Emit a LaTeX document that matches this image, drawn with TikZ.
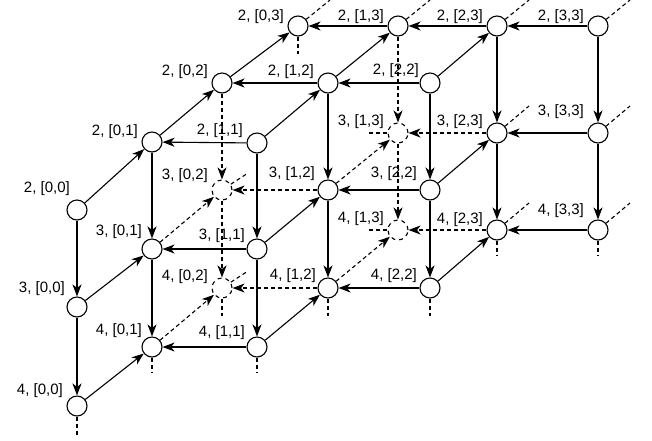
\documentclass[tikz,border=0pt]{standalone}
\usepackage{fontspec}
\setmainfont{Liberation Sans}
\usetikzlibrary{arrows.meta}

\begin{document}
\begin{tikzpicture}[x=1pt,y=-1pt,
    vtx/.style={circle,draw,fill=white,line width=1.1pt,
                minimum size=20pt,inner sep=0pt},
    hid/.style={vtx,dash pattern=on 4pt off 4pt},
    lbl/.style={anchor=base east,inner sep=0pt,
                font=\fontsize{15}{18}\selectfont},
    arr/.style={-{Stealth[length=12pt,width=9pt,inset=3.5pt]},line width=1.1pt},
    darr/.style={arr,dash pattern=on 4pt off 3pt},
    stub/.style={line width=1.1pt,dash pattern=on 4pt off 3pt},
  ]
    \useasboundingbox (0,0) rectangle (652,440);
    % layer 2
    \node[vtx](v2-00) at (77,210) {};  \node[lbl](t2-00) at (70,192) {2, [0,0]};
    \node[vtx](v2-01) at (152,142) {}; \node[lbl](t2-01) at (138,135) {2, [0,1]};
    \node[vtx](v2-02) at (222,83) {};  \node[lbl](t2-02) at (208,75) {2, [0,2]};
    \node[vtx](v2-03) at (298,26) {};  \node[lbl](t2-03) at (284,20) {2, [0,3]};
    \node[vtx](v2-11) at (257,143) {}; \node[lbl](t2-11) at (243,134) {2, [1,1]};
    \node[vtx](v2-12) at (328,83) {};  \node[lbl](t2-12) at (314,75) {2, [1,2]};
    \node[vtx](v2-13) at (398,26) {};  \node[lbl](t2-13) at (384,20) {2, [1,3]};
    \node[vtx](v2-22) at (430,83) {};  \node[lbl](t2-22) at (419,74) {2, [2,2]};
    \node[vtx](v2-23) at (497,26) {};  \node[lbl](t2-23) at (483,20) {2, [2,3]};
    \node[vtx](v2-33) at (598,26) {};  \node[lbl](t2-33) at (584,20) {2, [3,3]};
    % layer 3
    \node[vtx](v3-00) at (77,307) {};  \node[lbl](t3-00) at (65,292) {3, [0,0]};
    \node[vtx](v3-01) at (152,249) {}; \node[lbl](t3-01) at (142,235) {3, [0,1]};
    \node[hid](v3-02) at (222,190) {}; \node[lbl](t3-02) at (208,179) {3, [0,2]};
    \node[vtx](v3-11) at (257,249) {}; \node[lbl](t3-11) at (245,239) {3, [1,1]};
    \node[vtx](v3-12) at (328,190) {}; \node[lbl](t3-12) at (315,177) {3, [1,2]};
    \node[hid](v3-13) at (398,133) {}; \node[lbl](t3-13) at (384,125) {3, [1,3]};
    \node[vtx](v3-22) at (430,190) {}; \node[lbl](t3-22) at (417,177) {3, [2,2]};
    \node[vtx](v3-23) at (497,133) {}; \node[lbl](t3-23) at (483,125) {3, [2,3]};
    \node[vtx](v3-33) at (598,133) {}; \node[lbl](t3-33) at (584,115) {3, [3,3]};
    % layer 4
    \node[vtx](v4-00) at (77,406) {};  \node[lbl](t4-00) at (63,394) {4, [0,0]};
    \node[vtx](v4-01) at (152,347) {}; \node[lbl](t4-01) at (142,334) {4, [0,1]};
    \node[hid](v4-02) at (222,288) {}; \node[lbl](t4-02) at (208,280) {4, [0,2]};
    \node[vtx](v4-11) at (257,347) {}; \node[lbl](t4-11) at (245,336) {4, [1,1]};
    \node[vtx](v4-12) at (328,288) {}; \node[lbl](t4-12) at (316,279) {4, [1,2]};
    \node[hid](v4-13) at (398,230) {}; \node[lbl](t4-13) at (384,222) {4, [1,3]};
    \node[vtx](v4-22) at (430,288) {}; \node[lbl](t4-22) at (417,279) {4, [2,2]};
    \node[vtx](v4-23) at (497,230) {}; \node[lbl](t4-23) at (483,223) {4, [2,3]};
    \node[vtx](v4-33) at (598,230) {}; \node[lbl](t4-33) at (584,214) {4, [3,3]};
    % free ends of the stubs
    \coordinate (u2-03) at (330,0);   \coordinate (u2-13) at (430,0);
    \coordinate (u2-23) at (529,0);   \coordinate (u2-33) at (630,0);
    \coordinate (u3-23) at (529,106); \coordinate (u3-33) at (630,106);
    \coordinate (u4-23) at (529,203); \coordinate (u4-33) at (630,203);
    \coordinate (u3-02) at (248,173); \coordinate (u4-02) at (248,271);
    \coordinate (l3-13) at (368,133); \coordinate (l4-13) at (368,230);
    \coordinate (d2-03) at (298,54);
    \coordinate (d4-00) at (77,436);  \coordinate (d4-01) at (152,373);
    \coordinate (d4-02) at (222,316); \coordinate (d4-11) at (257,373);
    \coordinate (d4-12) at (328,316); \coordinate (d4-22) at (430,316);
    \coordinate (d4-23) at (497,256); \coordinate (d4-33) at (598,256);
    % layer 2 edges
    \draw[arr](v2-00)--(v2-01); \draw[arr](v2-01)--(v2-02); \draw[arr](v2-02)--(v2-03);
    \draw[arr](v2-11)--(v2-12); \draw[arr](v2-12)--(v2-13); \draw[arr](v2-22)--(v2-23);
    \draw[arr](v2-11)--(v2-01); \draw[arr](v2-12)--(v2-02); \draw[arr](v2-22)--(v2-12);
    \draw[arr](v2-13)--(v2-03); \draw[arr](v2-23)--(v2-13); \draw[arr](v2-33)--(v2-23);
    % layer 3 and 4 edges
    \foreach \k in {3,4}{
      \draw[arr](v\k-00)--(v\k-01); \draw[darr](v\k-01)--(v\k-02);
      \draw[arr](v\k-11)--(v\k-12); \draw[darr](v\k-12)--(v\k-13);
      \draw[arr](v\k-22)--(v\k-23);
      \draw[arr](v\k-11)--(v\k-01); \draw[darr](v\k-12)--(v\k-02);
      \draw[arr](v\k-22)--(v\k-12); \draw[darr](v\k-23)--(v\k-13);
      \draw[arr](v\k-33)--(v\k-23);
    }
    % between layers
    \foreach \a/\b in {2/3,3/4}{
      \foreach \ij in {00,01,11,12,22,23,33}
        \draw[arr](v\a-\ij)--(v\b-\ij);
      \draw[darr](v\a-02)--(v\b-02); \draw[darr](v\a-13)--(v\b-13);
    }
    % stubs
    \foreach \s in {2-03,2-13,2-23,2-33,3-23,3-33,4-23,4-33,3-02,4-02}
      \draw[stub](v\s)--(u\s);
    \draw[stub](v3-13)--(l3-13); \draw[stub](v4-13)--(l4-13);
    \foreach \s in {2-03,4-00,4-01,4-02,4-11,4-12,4-22,4-23,4-33}
      \draw[stub](v\s)--(d\s);
  \end{tikzpicture}
\end{document}
